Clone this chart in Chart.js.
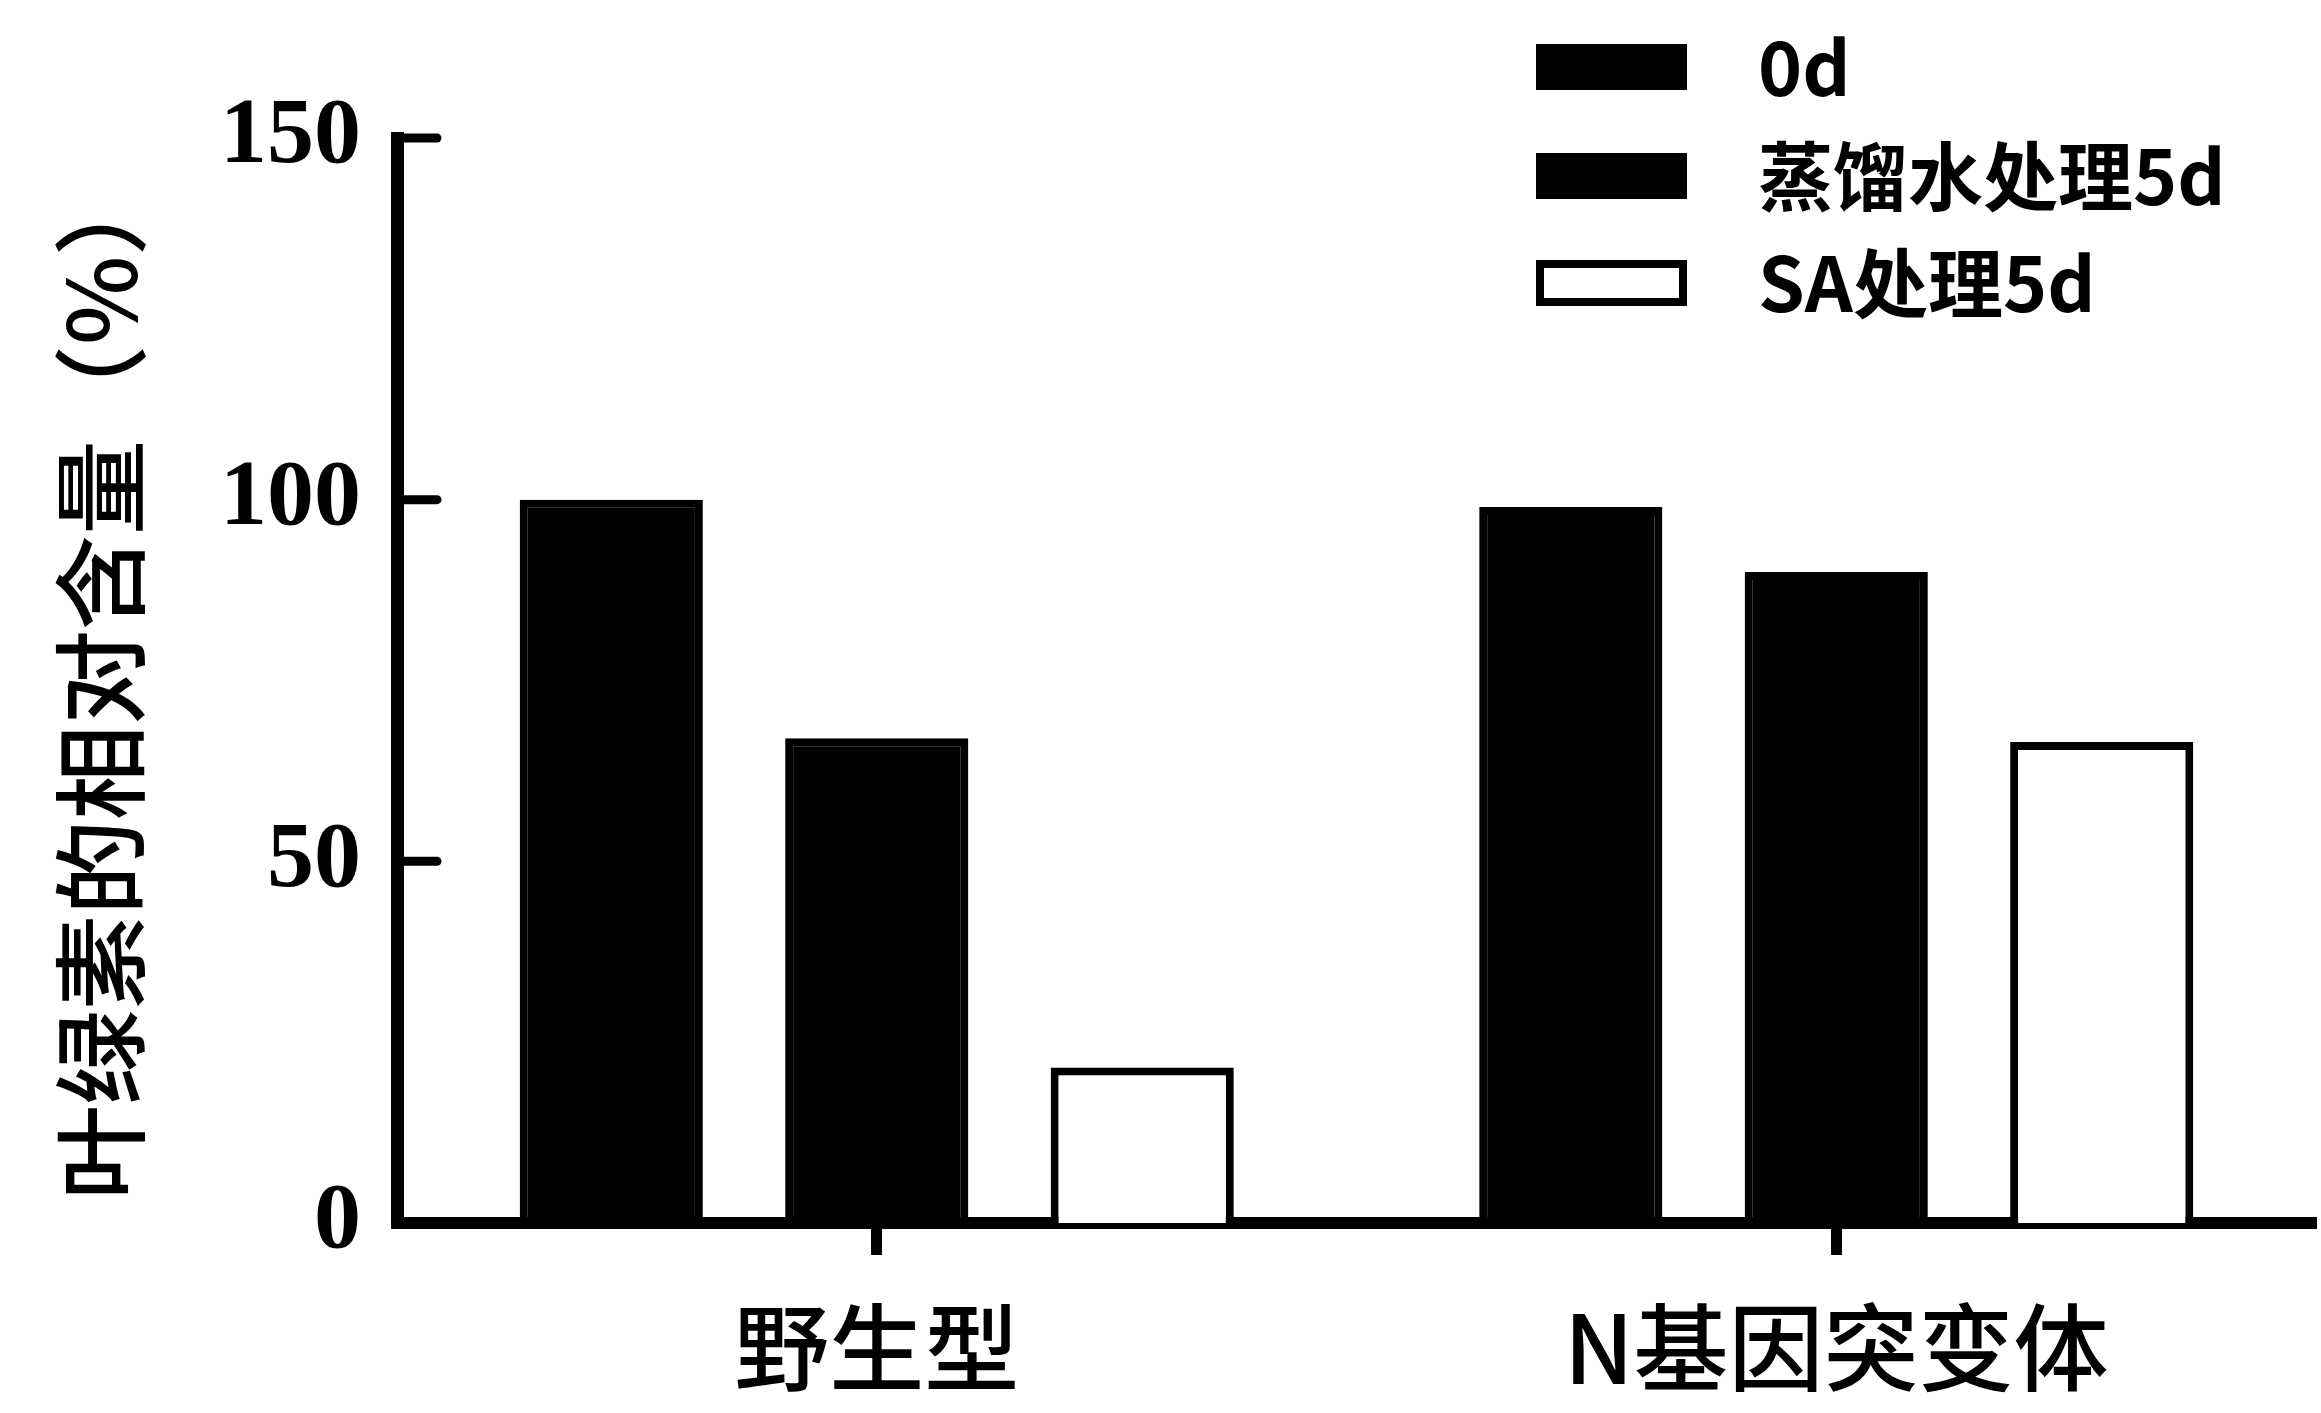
<!DOCTYPE html>
<html>
<head>
<meta charset="utf-8">
<script src="https://cdn.jsdelivr.net/npm/chart.js@4/dist/chart.umd.min.js"></script>
<style>
  html, body { margin: 0; padding: 0; background: #fff; }
  canvas { display: block; }
</style>
</head>
<body>
<canvas id="c" width="2321" height="1413"></canvas>
<script>
// ---- data ----
const categories = ['野生型', 'N基因突变体'];
const seriesLabels = ['0d', '蒸馏水处理5d', 'SA处理5d'];
const day0 = [100, 99];
const waterDay5 = [67, 90];
const saDay5 = [21.5, 66.5];
const yTicks = [0, 50, 100, 150];

const fills = ['#000000', '#000000', '#ffffff'];

const innerTicks = {
  id: 'innerTicks',
  afterDraw(chart) {
    const y = chart.scales.y;
    const ctx = chart.ctx;
    const x0 = chart.chartArea.left;
    ctx.save();
    ctx.strokeStyle = '#000';
    ctx.lineWidth = 9;
    ctx.lineCap = 'round';
    y.ticks.forEach(t => {
      if (t.value === 0) return;
      const py = y.getPixelForValue(t.value);
      ctx.beginPath();
      ctx.moveTo(x0, py);
      ctx.lineTo(x0 + 40, py);
      ctx.stroke();
    });
    ctx.restore();
  }
};

const customLegend = {
  id: 'customLegend',
  afterDraw(chart) {
    const ctx = chart.ctx;
    const rows = [67, 176, 283];
    const bx = 1536, bw = 151, bh = 46, tx = 1758;
    ctx.save();
    chart.data.datasets.forEach((ds, i) => {
      const cy = rows[i];
      ctx.fillStyle = ds.backgroundColor;
      ctx.fillRect(bx, cy - bh / 2, bw, bh);
      ctx.strokeStyle = '#000';
      ctx.lineWidth = 8;
      ctx.strokeRect(bx + 4, cy - bh / 2 + 4, bw - 8, bh - 8);
      ctx.fillStyle = '#000';
      ctx.font = 'bold 75px "Noto Sans CJK SC", sans-serif';
      ctx.textBaseline = 'middle';
      ctx.textAlign = 'left';
      ctx.fillText(ds.label, tx, cy);
    });
    ctx.restore();
  }
};

new Chart(document.getElementById('c'), {
  type: 'bar',
  data: {
    labels: categories,
    datasets: [
      { label: seriesLabels[0], data: day0, backgroundColor: fills[0], borderColor: '#000', borderWidth: 8 },
      { label: seriesLabels[1], data: waterDay5, backgroundColor: fills[1], borderColor: '#000', borderWidth: 8 },
      { label: seriesLabels[2], data: saDay5, backgroundColor: fills[2], borderColor: '#000', borderWidth: 8 }
    ]
  },
  options: {
    responsive: false,
    devicePixelRatio: 1,
    animation: false,
    layout: { padding: { top: 138, left: 36, right: 5, bottom: 0 } },
    datasets: { bar: { categoryPercentage: 0.83, barPercentage: 0.69 } },
    plugins: { legend: { display: false }, tooltip: { enabled: false } },
    scales: {
      x: {
        grid: { display: true, drawOnChartArea: false, drawTicks: true, tickLength: 32, tickWidth: 11, tickColor: '#000', offset: false },
        border: { display: true, color: '#000', width: 12 },
        ticks: { color: '#000', padding: 36, font: { family: '"Noto Sans CJK SC", sans-serif', size: 95, weight: '500' } },
        afterFit(scale) { scale.height = 190; }
      },
      y: {
        min: 0, max: 150,
        afterBuildTicks(scale) { scale.ticks = yTicks.map(v => ({ value: v })); },
        grid: { display: false, drawTicks: false },
        border: { display: true, color: '#000', width: 13 },
        ticks: { color: '#000', padding: 36, font: { family: '"Liberation Serif", serif', size: 94, weight: 'bold' } },
        title: {
          display: true,
          text: '叶绿素的相对含量（%）',
          color: '#000',
          padding: { top: 8, bottom: 0 },
          font: { family: '"Noto Sans CJK SC", sans-serif', size: 95, weight: '500' }
        },
        afterFit(scale) { scale.width = 361; }
      }
    }
  },
  plugins: [innerTicks, customLegend]
});
</script>
</body>
</html>
